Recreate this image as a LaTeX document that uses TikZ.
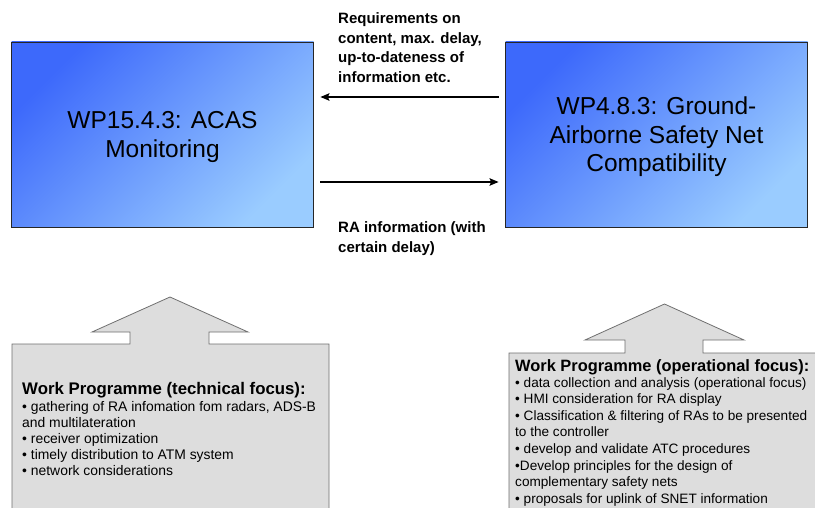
\documentclass[tikz,border=0pt]{standalone}
\usepackage{fontspec}
\setmainfont{Liberation Sans}
\usepackage{xcolor}
\usetikzlibrary{positioning,arrows.meta}

\definecolor{wpdark}{HTML}{3D69FB}
\definecolor{wplight}{HTML}{9ACCFF}
\definecolor{progfill}{HTML}{DDDDDD}
\definecolor{progline}{HTML}{6F6F6F}

\tikzset{
  wpbox/.style={draw=black!85, line width=0.9pt, top color=wpdark, bottom color=wplight,
    shading angle=45, minimum width=302pt, minimum height=185pt, inner sep=0pt,
    text depth=0pt, align=center, font=\fontsize{24.5}{28.5}\selectfont},
  flow/.style={-{Stealth[length=9pt,width=7.5pt,inset=1.5pt]}, line width=1.4pt},
  flowlabel/.style={anchor=north west, inner sep=0pt, align=left,
    font=\bfseries\fontsize{15}{19.5}\selectfont},
  progshape/.style={fill=progfill, draw=progline, line width=0.8pt},
  progtitle/.style={anchor=north west, inner sep=0pt, font=\bfseries\fontsize{16.8}{18}\selectfont},
  proglist/.style={anchor=north west, inner sep=0pt, align=left}
}

\begin{document}
\begin{tikzpicture}[x=1pt,y=-1pt]
\useasboundingbox (0,0) rectangle (815,508);

% the two work packages
\node[wpbox] (acas) at (162.5,134.5) {WP15.4.3: ACAS\\Monitoring};
\node[wpbox] (gsn) at (656.5,134.5) {WP4.8.3: Ground-\\Airborne Safety Net\\Compatibility};

% exchange between them
\draw[flow] ([xshift=-6.5pt,yshift=37.5pt]gsn.west) -- ([xshift=6.5pt,yshift=37.5pt]acas.east);
\draw[flow] ([xshift=6.5pt,yshift=-47.5pt]acas.east) -- ([xshift=-6.5pt,yshift=-47.5pt]gsn.west);

\node[flowlabel] (reqlabel) at (338,12.5) {Requirements on\\content, max. delay,\\up-to-dateness of\\information etc.};
\node[flowlabel] (ralabel) at (338,221.5) {RA information (with\\certain delay)};

% work programme boxes with block arrows
\path[progshape] (12,515) -- (12,344) -- (130,344) -- (130,332) -- (92,332) -- (170,297)
  -- (248,332) -- (209,332) -- (209,344) -- (329,344) -- (329,515);
\path[progshape] (509,515) -- (509,353) -- (625,353) -- (625,340) -- (585,340) -- (664.5,304)
  -- (744,340) -- (703,340) -- (703,353) -- (830,353) -- (830,515);

\node[progtitle] (techtitle) at (22,382.5) {Work Programme (technical focus):};
\node[proglist, font=\fontsize{13.9}{16}\selectfont] (techlist) at (22,401) {%
  • gathering of RA infomation fom radars, ADS-B\\
  and multilateration\\
  • receiver optimization\\
  • timely distribution to ATM system\\
  • network considerations};

\node[progtitle, font=\bfseries\fontsize{16.4}{18}\selectfont] (optitle) at (515,359.5) {Work Programme (operational focus):};
\node[proglist, font=\fontsize{13.6}{16.6}\selectfont] (oplist) at (515,377) {%
  • data collection and analysis (operational focus)\\
  • HMI consideration for RA display\\
  • Classification \& filtering of RAs to be presented\\
  to the controller\\
  • develop and validate ATC procedures\\
  •Develop principles for the design of\\
  complementary safety nets\\
  • proposals for uplink of SNET information};
\end{tikzpicture}
\end{document}
